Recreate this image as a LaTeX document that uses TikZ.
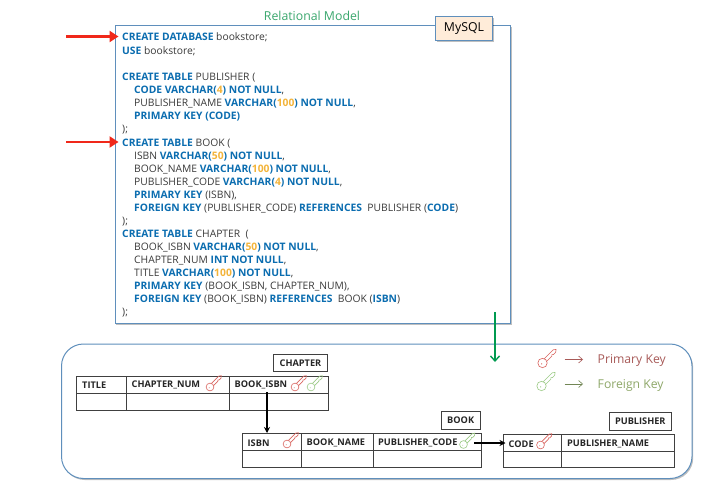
\documentclass[tikz,border=0pt]{standalone}
\usepackage{fontspec}
\setmainfont{Open Sans}
\usetikzlibrary{arrows.meta,shadows}
\definecolor{kwblue}{HTML}{0B6DB0}
\definecolor{numyel}{HTML}{F3B43A}
\definecolor{bodyc}{HTML}{3A3A3A}
\definecolor{framec}{HTML}{5F8FBC}
\definecolor{keyred}{HTML}{D9645F}
\definecolor{keygreen}{HTML}{9CCB86}
\definecolor{titlegreen}{HTML}{3AA76D}
\definecolor{mainred}{HTML}{F0281A}
\definecolor{dgreen}{HTML}{009A50}
\definecolor{pkc}{HTML}{A85A58}
\definecolor{fkc}{HTML}{8FA86A}
\newcommand{\kw}[1]{{\color{kwblue}\bfseries #1}}
\newcommand{\nm}[1]{{\color{numyel}\bfseries #1}}
\tikzset{
  x=1pt,y=-1pt,
  codeline/.style={anchor=west,inner sep=0pt,yshift=-0.5pt,text=bodyc,font=\fontsize{10.3}{12}\selectfont},
  frame/.style={draw=framec,line width=1pt,fill=white,drop shadow={shadow xshift=1.2pt,shadow yshift=-1.5pt,fill=black,opacity=0.25}},
  cell/.style={draw=black!75,line width=0.9pt,anchor=north west,inner sep=0pt,fill=white},
  head/.style={anchor=west,inner sep=0pt,yshift=-0.8pt,text=black!85,font=\fontsize{9.2}{11}\selectfont\bfseries},
  tag/.style={draw=black!75,line width=0.9pt,fill=white,inner sep=0pt,font=\fontsize{9.2}{11}\selectfont\bfseries,text=black!85},
  fk/.style={-{Stealth[length=6pt,width=6pt]},line width=1.1pt,black},
  redarrow/.style={-{Triangle[length=9pt,width=11pt]},line width=2.2pt,mainred},
  legarrow/.style={-{Straight Barb[length=4pt,width=7pt]},line width=0.6pt},
  pics/dbkey/.style={code={
    \begin{scope}[rotate=45,line width=0.6pt,draw=#1,fill=white]
      \draw (3,-1.5) -- (14,-1.5) -- (16,0) -- (14,1.5) -- (11.5,1.5) -- (10.5,0.6) -- (9.5,1.5) -- (3,1.5);
      \filldraw (0,0) circle (3.9);
      \fill[#1] (-1,0) circle (0.6);
    \end{scope}
  }},
  pics/dbkeybig/.style={code={
    \begin{scope}[rotate=45,scale=1.2,line width=0.6pt,draw=#1,fill=white]
      \draw (3,-1.5) -- (14,-1.5) -- (16,0) -- (14,1.5) -- (11.5,1.5) -- (10.5,0.6) -- (9.5,1.5) -- (3,1.5);
      \filldraw (0,0) circle (3.9);
      \fill[#1] (-1,0) circle (0.5);
    \end{scope}
  }}
}
\begin{document}
\begin{tikzpicture}
\useasboundingbox (0,0) rectangle (701,489);
\fill[white] (0,0) rectangle (701,489);

\node[anchor=center,inner sep=0pt,text=titlegreen,font=\fontsize{12.3}{14}\selectfont] (title) at (312,16) {Relational Model};

\node[frame,anchor=north west,minimum width=395.5pt,minimum height=297pt,inner sep=0pt] (code) at (114.5,25.5) {};
\node[anchor=north west,draw=framec,line width=1pt,fill=orange!15,minimum width=57pt,minimum height=24pt,inner sep=0pt,font=\fontsize{12.3}{14}\selectfont,drop shadow={shadow xshift=1.2pt,shadow yshift=-1.5pt,fill=black,opacity=0.25}] (mysql) at (435,16.5) {MySQL};

\node[codeline] (l1) at (122,36.7) {\kw{CREATE DATABASE} bookstore;};
\node[codeline] (l2) at (122,50.7) {\kw{USE} bookstore;};
\node[codeline] (l3) at (122,77) {\kw{CREATE TABLE} PUBLISHER (};
\node[codeline] (l4) at (134,90) {\kw{CODE VARCHAR(}\nm{4}\kw{) NOT NULL},};
\node[codeline] (l5) at (134,103.5) {PUBLISHER\_NAME \kw{VARCHAR(}\nm{100}\kw{) NOT NULL},};
\node[codeline] (l6) at (134,116.5) {\kw{PRIMARY KEY (CODE)}};
\node[codeline] (l7) at (122,129.5) {);};
\node[codeline] (l8) at (122,142.7) {\kw{CREATE TABLE} BOOK (};
\node[codeline] (l9) at (134,156) {ISBN \kw{VARCHAR(}\nm{50}\kw{) NOT NULL},};
\node[codeline] (l10) at (134,169) {BOOK\_NAME \kw{VARCHAR(}\nm{100}\kw{) NOT NULL},};
\node[codeline] (l11) at (134,182) {PUBLISHER\_CODE \kw{VARCHAR(}\nm{4}\kw{) NOT NULL},};
\node[codeline] (l12) at (134,195) {\kw{PRIMARY KEY} (ISBN),};
\node[codeline] (l13) at (134,208) {\kw{FOREIGN KEY} (PUBLISHER\_CODE) \kw{REFERENCES} ~PUBLISHER (\kw{CODE})};
\node[codeline] (l14) at (122,221) {);};
\node[codeline] (l15) at (122,234) {\kw{CREATE TABLE} CHAPTER ~(};
\node[codeline] (l16) at (134,247) {BOOK\_ISBN \kw{VARCHAR(}\nm{50}\kw{) NOT NULL},};
\node[codeline] (l17) at (134,260) {CHAPTER\_NUM \kw{INT NOT NULL},};
\node[codeline] (l18) at (134,273) {TITLE \kw{VARCHAR(}\nm{100}\kw{) NOT NULL},};
\node[codeline] (l19) at (134,286) {\kw{PRIMARY KEY} (BOOK\_ISBN, CHAPTER\_NUM),};
\node[codeline] (l20) at (134,299) {\kw{FOREIGN KEY} (BOOK\_ISBN) \kw{REFERENCES} ~BOOK (\kw{ISBN})};
\node[codeline] (l21) at (122,312) {);};

\coordinate (r1) at (66,36.5);
\coordinate (r2) at (66,142);
\draw[redarrow,shorten >=3.5pt] (r1) -- (l1.west |- r1);
\draw[redarrow,shorten >=3.5pt] (r2) -- (l8.west |- r2);

\node[frame,rounded corners=22pt,anchor=north west,minimum width=630.5pt,minimum height=134.5pt,inner sep=0pt] (model) at (61,343.5) {};

\coordinate (g1) at (495,312);
\coordinate (g2) at (495,362);
\draw[-{Straight Barb[length=5pt,width=9pt]},line width=1.4pt,dgreen] (g1) -- (g2);

% legend
\pic at (542.5,363) {dbkeybig=keyred};
\pic at (541.5,386) {dbkeybig=keygreen};
\coordinate (la1) at (564.5,359.5);
\coordinate (la2) at (583,359.5);
\coordinate (lb1) at (564.5,384);
\coordinate (lb2) at (583,384);
\draw[legarrow,draw=pkc] (la1) -- (la2);
\draw[legarrow,draw=fkc!80!black] (lb1) -- (lb2);
\node[anchor=west,inner sep=0pt,text=pkc,font=\fontsize{12.2}{14}\selectfont] (pk) at (597.5,360) {Primary Key};
\node[anchor=west,inner sep=0pt,text=fkc,font=\fontsize{12.2}{14}\selectfont] (fkl) at (597.5,385) {Foreign Key};

% CHAPTER
\node[tag,minimum width=54.5pt,minimum height=17.5pt] (tchapter) at (300.5,363) {CHAPTER};
\node[cell,minimum width=49.5pt,minimum height=17pt] (c1) at (76,375.5) {};
\node[cell,minimum width=103pt,minimum height=17pt] (c2) at (125.5,375.5) {};
\node[cell,minimum width=99pt,minimum height=17pt] (c3) at (228.5,375.5) {};
\node[cell,minimum width=49.5pt,minimum height=17pt] (c4) at (76,392.5) {};
\node[cell,minimum width=103pt,minimum height=17pt] (c5) at (125.5,392.5) {};
\node[cell,minimum width=99pt,minimum height=17pt] (c6) at (228.5,392.5) {};
\node[head] (h1) at (82,384.5) {TITLE};
\node[head] (h2) at (131.5,384.5) {CHAPTER\_NUM};
\node[head] (h3) at (234.5,384.5) {BOOK\_ISBN};
\pic at (210,387) {dbkey=keyred};
\pic at (295,387) {dbkey=keyred};
\pic at (311,387) {dbkey=keygreen};

% BOOK
\node[tag,minimum width=39.5pt,minimum height=18pt] (tbook) at (460.7,420.3) {BOOK};
\node[cell,minimum width=58.5pt,minimum height=17pt] (b1) at (242,433) {};
\node[cell,minimum width=72pt,minimum height=17pt] (b2) at (300.5,433) {};
\node[cell,minimum width=108pt,minimum height=17pt] (b3) at (372.5,433) {};
\node[cell,minimum width=58.5pt,minimum height=17pt] (b4) at (242,450) {};
\node[cell,minimum width=72pt,minimum height=17pt] (b5) at (300.5,450) {};
\node[cell,minimum width=108pt,minimum height=17pt] (b6) at (372.5,450) {};
\node[head] (h4) at (247.5,442) {ISBN};
\node[head] (h5) at (306.5,442) {BOOK\_NAME};
\node[head] (h6) at (378,442) {PUBLISHER\_CODE};
\pic at (287,444) {dbkey=keyred};
\pic at (463.5,444.5) {dbkey=keygreen};

% PUBLISHER
\node[tag,minimum width=62.5pt,minimum height=18pt] (tpub) at (640.3,421.3) {PUBLISHER};
\node[cell,minimum width=58.5pt,minimum height=17pt] (p1) at (502.5,434) {};
\node[cell,minimum width=113pt,minimum height=17pt] (p2) at (561,434) {};
\node[cell,minimum width=58.5pt,minimum height=16pt] (p3) at (502.5,451) {};
\node[cell,minimum width=113pt,minimum height=16pt] (p4) at (561,451) {};
\node[head] (h7) at (508.5,443) {CODE};
\node[head] (h8) at (567,443) {PUBLISHER\_NAME};
\pic at (540.5,445) {dbkey=keyred};

% foreign key connectors
\coordinate (fk1) at (267,392);
\draw[fk] (fk1) -- (b1.north -| fk1);
\coordinate (fk2) at (474,443);
\draw[fk,shorten >=3pt] (fk2) -- (h7.west |- fk2);
\end{tikzpicture}
\end{document}
